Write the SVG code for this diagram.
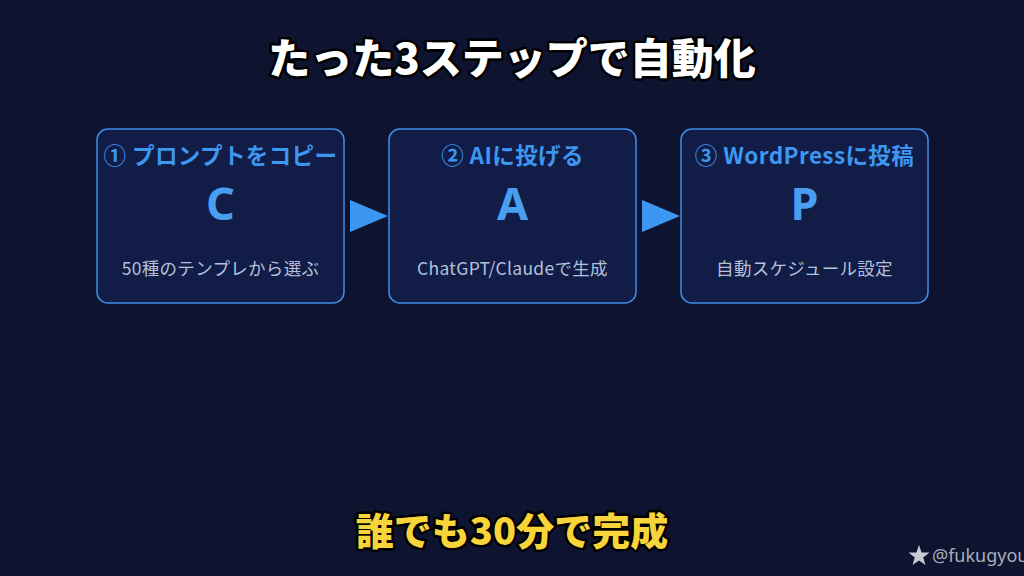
<svg xmlns="http://www.w3.org/2000/svg" width="1024" height="576" viewBox="0 0 1024 576">
<style>
.bg{fill:#0e1330}
.box{fill:#111c47;stroke:#3f8fe6;stroke-width:1.5}
.hd{font-family:"Noto Sans CJK JP","Noto Sans",sans-serif;font-weight:700;font-size:22.5px;letter-spacing:0.4px;fill:#3d97f0;text-anchor:middle}
.big{font-family:"Noto Sans","Noto Sans CJK JP",sans-serif;font-weight:700;font-size:45px;fill:#4a9ef0;text-anchor:middle}
.sub{font-family:"Noto Sans CJK JP","Noto Sans",sans-serif;font-size:17.5px;letter-spacing:0.3px;fill:#b4c0da;text-anchor:middle}
.title{font-family:"Noto Sans CJK JP",sans-serif;font-weight:900;font-size:42px;fill:#ffffff;stroke:#000;stroke-width:5;paint-order:stroke;stroke-linejoin:round;text-anchor:middle}
.foot{font-family:"Noto Sans CJK JP",sans-serif;font-weight:900;font-size:38px;fill:#f7d43a;stroke:#000;stroke-width:5;paint-order:stroke;stroke-linejoin:round;text-anchor:middle}
.arr{fill:#3d97f0}
.wm{font-family:"Noto Sans","Noto Sans CJK JP",sans-serif;font-size:18px;fill:#a9adb8}
</style>
<rect class="bg" x="0" y="0" width="1024" height="576"/>
<text class="title" x="512" y="74">たった3ステップで自動化</text>
<g id="node1">
<rect class="box" x="97" y="129" width="247" height="174" rx="11"/>
<text class="hd" x="220.5" y="164">① プロンプトをコピー</text>
<text class="big" x="220.5" y="220">C</text>
<text class="sub" x="220.5" y="275">50種のテンプレから選ぶ</text>
</g>
<g id="node2">
<rect class="box" x="389" y="129" width="247" height="174" rx="11"/>
<text class="hd" x="512.5" y="164">② AIに投げる</text>
<text class="big" x="512.5" y="220">A</text>
<text class="sub" x="512.5" y="275">ChatGPT/Claudeで生成</text>
</g>
<g id="node3">
<rect class="box" x="681" y="129" width="247" height="174" rx="11"/>
<text class="hd" x="804.5" y="164">③ WordPressに投稿</text>
<text class="big" x="804.5" y="220">P</text>
<text class="sub" x="804.5" y="275">自動スケジュール設定</text>
</g>
<g id="connectors">
<polygon class="arr" points="350,200 388,216 350,232"/>
<polygon class="arr" points="642,200 680,216 642,232"/>
</g>
<text class="foot" x="512" y="545">誰でも30分で完成</text>
<g id="watermark">
<polygon fill="#c8cad2" points="919,545 921.6,552.4 929.5,552.6 923.2,557.4 925.5,565 919,560.5 912.5,565 914.8,557.4 908.5,552.6 916.4,552.4"/>
<text class="wm" x="932" y="562">@fukugyou</text>
</g>
</svg>
